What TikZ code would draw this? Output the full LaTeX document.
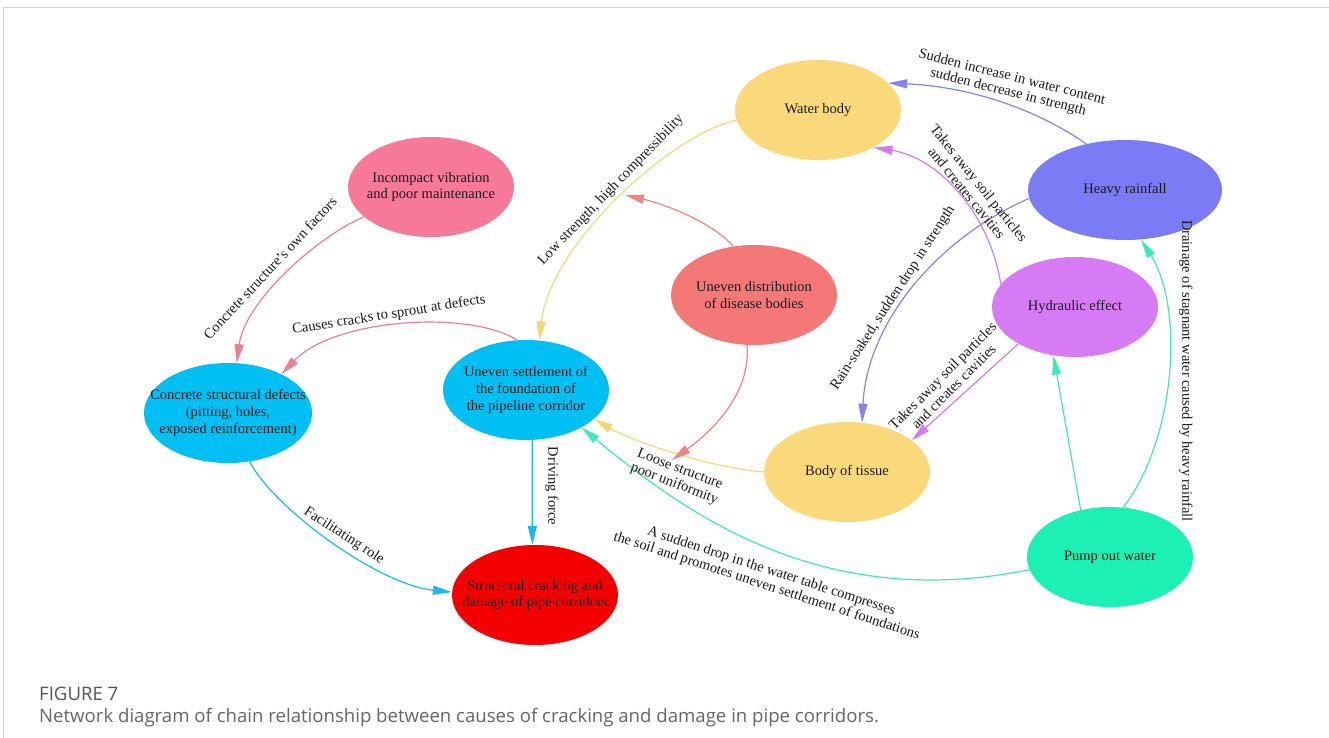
\documentclass[tikz,border=0pt]{standalone}
\usepackage{fontspec}
\setmainfont{Liberation Serif}
\newfontfamily\capfont{Open Sans}
\usetikzlibrary{arrows.meta,shapes.geometric}
\definecolor{cyel}{HTML}{FAD97A}
\definecolor{cblu}{HTML}{7B7BF5}
\definecolor{cpur}{HTML}{D77BF5}
\definecolor{cgrn}{HTML}{1DF0B4}
\definecolor{csal}{HTML}{F57878}
\definecolor{cpink}{HTML}{F7799A}
\definecolor{csky}{HTML}{00BFF3}
\definecolor{cred}{HTML}{F50000}
\definecolor{eyel}{HTML}{F7D67A}
\definecolor{eblu}{HTML}{8484F2}
\definecolor{epur}{HTML}{D47CF2}
\definecolor{egrn}{HTML}{3EE8BC}
\definecolor{esal}{HTML}{F08484}
\definecolor{epink}{HTML}{F07C9A}
\definecolor{esky}{HTML}{1EB8F0}
\definecolor{txt}{HTML}{1A1A1A}
\definecolor{capgray}{HTML}{666666}
\definecolor{figgray}{HTML}{555555}
\definecolor{bordergray}{HTML}{CFCFCF}
\tikzset{
  blob/.style={ellipse, minimum width=166pt, minimum height=100pt, inner sep=0pt, draw=none},
  ntxt/.style={font=\fontsize{14.5}{16.7}\selectfont, text=txt, align=center, inner sep=0pt},
  elbl/.style={font=\fontsize{14.5}{15.5}\selectfont, text=txt, align=center, inner sep=0pt},
  arr/.style={-{Triangle[length=19pt,width=9pt]}, line width=1.2pt},
  captxt/.style={anchor=west, inner sep=0pt, font=\capfont\fontsize{18.6}{22}\selectfont},
}
\begin{document}
\begin{tikzpicture}[x=1pt,y=-1pt]
\useasboundingbox (0,0) rectangle (1329,738);
\fill[white] (0,0) rectangle (1329,738);
\draw[bordergray, line width=1.5pt] (3,7.5) -- (1329,7.5);
\draw[bordergray, line width=1pt] (3.5,7) -- (3.5,738);

% nodes
\node[blob, fill=cyel] (wb) at (818,110) {};
\node[ntxt] at (wb) {Water body};
\node[blob, fill=cblu, minimum width=194pt] (hr) at (1125,190) {};
\node[ntxt] at (hr) {Heavy rainfall};
\node[blob, fill=cpur] (hy) at (1075,307) {};
\node[ntxt] at (hy) {Hydraulic effect};
\node[blob, fill=cyel] (bt) at (847,472) {};
\node[ntxt] at (bt) {Body of tissue};
\node[blob, fill=cgrn] (pw) at (1110,557) {};
\node[ntxt] at (pw) {Pump out water};
\node[blob, fill=csal] (ud) at (754,295) {};
\node[ntxt] at (ud) {Uneven distribution\\of disease bodies};
\node[blob, fill=cpink] (iv) at (431,187) {};
\node[ntxt] at (iv) {Incompact vibration\\and poor maintenance};
\node[blob, fill=csky, minimum width=168pt] (cd) at (228,413) {};
\node[ntxt] at (cd) {Concrete structural defects\\(pitting, holes,\\exposed reinforcement)};
\node[blob, fill=csky] (us) at (526,390) {};
\node[ntxt] at (us) {Uneven settlement of\\the foundation of\\the pipeline corridor};
\node[blob, fill=cred] (sc) at (535,595) {};
\node[ntxt] at (sc) {Structural cracking and\\damage of pipe corridors};

\coordinate (t1) at (672,460);
\coordinate (t2) at (625,195);

% connectors
\draw[arr, eblu] (hr.130) .. controls (1027,103) and (958,86) .. (wb.21);
\draw[arr, epur] (hy.163) .. controls (990,215) and (940,158) .. (wb.-34);
\draw[arr, eblu] (hr.185) .. controls (938,238) and (867,322) .. (bt.73);
\draw[arr, epur] (hy.213) -- (bt.26);
\draw[arr, egrn] (pw.122) -- (hy.246);
\draw[arr, egrn] (pw.75) .. controls (1175,440) and (1185,310) .. (hr.-72);
\draw[arr, egrn] (pw.189) .. controls (830,610) and (698,524) .. (us.-34);
\draw[arr, eyel] (bt.180) .. controls (710,468) and (630,440) .. (us.-23);
\draw[arr, esal] (ud.262) .. controls (752,400) and (700,440) .. (t1);
\draw[arr, esal] (ud.113) .. controls (710,220) and (660,203) .. (t2);
\draw[arr, eyel] (wb.187) .. controls (670,135) and (550,245) .. (us.75);
\draw[arr, epink] (iv.204) .. controls (320,235) and (245,300) .. (cd.80);
\draw[arr, epink] (us.100) .. controls (470,310) and (335,318) .. (cd.36);
\draw[arr, esky] (cd.-66) .. controls (275,510) and (380,585) .. (sc.178);
\draw[arr, esky] (us.-83) -- (sc.93);

% connector labels
\node[elbl, rotate=-14] (l1) at (1010,85) {Sudden increase in water content\\sudden decrease in strength};
\node[elbl, rotate=-51] (l2) at (973,188) {Takes away soil particles\\and creates cavities};
\node[elbl, rotate=57] (l3) at (893,298) {Rain-soaked, sudden drop in strength};
\node[elbl, rotate=45] (l4) at (948,381) {Takes away soil particles\\and creates cavities};
\node[elbl, rotate=-90] (l6) at (1186,371) {Drainage of stagnant water caused by heavy rainfall};
\node[elbl, rotate=-18] (l7) at (769,579) {A sudden drop in the water table compresses\\the soil and promotes uneven settlement of foundations};
\node[elbl, rotate=-21] (l8) at (677,477) {Loose structure\\poor uniformity};
\node[elbl, rotate=46] (l11) at (611,190) {Low strength, high compressibility};
\node[elbl, rotate=47] (l12) at (270,268) {Concrete structure's own factors};
\node[elbl, rotate=9] (l13) at (389,315) {Causes cracks to sprout at defects};
\node[elbl, rotate=-33] (l14) at (344,536) {Facilitating role};
\node[elbl, rotate=-90] (l15) at (552,486) {Driving force};

% caption
\node[captxt, text=figgray] (fig) at (39,694) {FIGURE 7};
\node[captxt, text=capgray] (cap) at (39,718) {Network diagram of chain relationship between causes of cracking and damage in pipe corridors.};
\end{tikzpicture}
\end{document}
